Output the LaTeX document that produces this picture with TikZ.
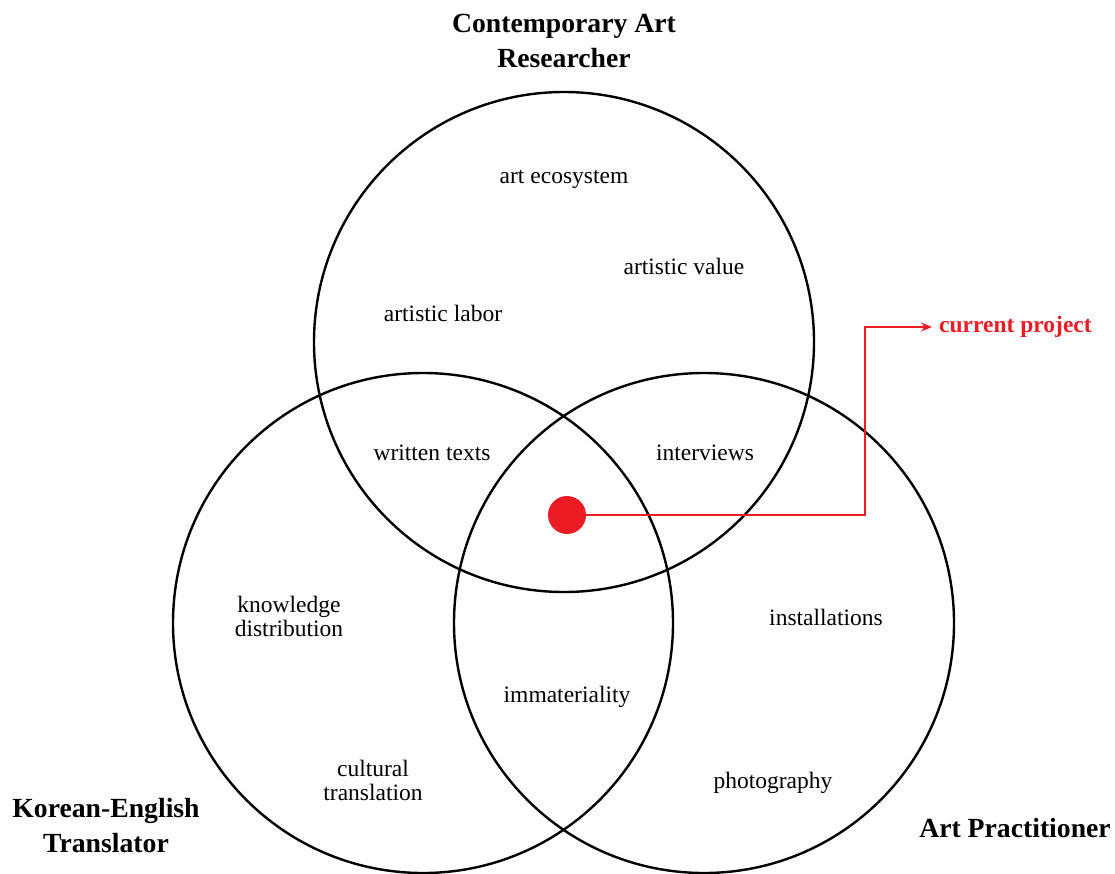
\documentclass[tikz,border=0pt]{standalone}
\usepackage{fontspec}
\setmainfont{Liberation Serif}
\usetikzlibrary{arrows.meta}
\definecolor{projred}{HTML}{ED1C24}
\tikzset{
  circ/.style={circle, draw=black, line width=2.4pt, minimum size=500pt, inner sep=0pt},
  lbl/.style={font=\fontsize{23.5}{24}\selectfont, align=center, inner sep=0pt},
  ttl/.style={font=\fontsize{27.7}{35}\selectfont\bfseries, align=center, inner sep=0pt},
  projdot/.style={circle, fill=projred, minimum size=38pt, inner sep=0pt},
  projlbl/.style={font=\fontsize{23.5}{26}\selectfont\bfseries, text=projred, inner sep=7pt},
  redline/.style={draw=projred, line width=1.5pt, -{Stealth[length=11pt,width=9pt]}}
}
\begin{document}
\begin{tikzpicture}[x=1pt,y=-1pt]
\useasboundingbox (0,0) rectangle (1115,873);
\node[circ] (res) at (564,342) {};
\node[circ] (tra) at (423,623) {};
\node[circ] (pra) at (704,623) {};
\node[ttl] (tres) at (564,41) {Contemporary Art\\Researcher};
\node[ttl] (ttra) at (106,826) {Korean-English\\Translator};
\node[ttl] (tpra) at (1015,828) {Art Practitioner};
\node[lbl] (l1) at (564,179) {art ecosystem};
\node[lbl] (l2) at (684,266) {artistic value};
\node[lbl] (l3) at (443,313) {artistic labor};
\node[lbl] (l4) at (432,453) {written texts};
\node[lbl] (l5) at (705,453) {interviews};
\node[lbl] (l6) at (289,616) {knowledge\\distribution};
\node[lbl] (l7) at (826,617) {installations};
\node[lbl] (l8) at (567,697) {immateriality};
\node[lbl] (l9) at (373,780) {cultural\\translation};
\node[lbl] (l10) at (773,783) {photography};
\node[projdot] (cur) at (567,515) {};
\node[projlbl, anchor=west] (plbl) at (932,327) {current project};
\coordinate (corner) at (865,515);
\draw[redline] (cur.east) -- (corner) |- (plbl.west);
\end{tikzpicture}
\end{document}
